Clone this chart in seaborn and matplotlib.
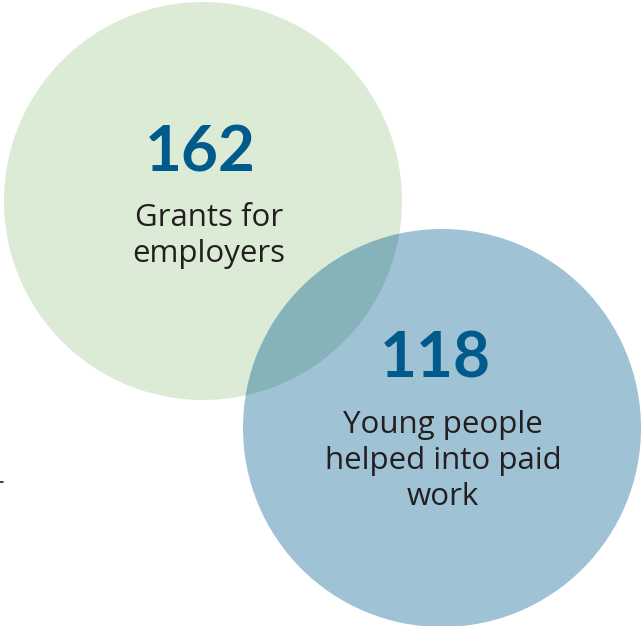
import matplotlib
matplotlib.use("Agg")
import matplotlib.pyplot as plt
import seaborn as sns
from matplotlib.patches import Circle

sns.set_theme(style="white")
plt.rcParams['font.family'] = ['Lato', 'DejaVu Sans']

values = [162, 118]
labels = [["Grants for", "employers"], ["Young people", "helped into paid", "work"]]
fill_colors = ["#dcebd6", "#a0c2d5"]
overlap_color = "#86b3b9"
number_color = "#005a8c"
text_color = "#231f20"

centers = [(203, 201), (442, 428)]
radius = 199

fig = plt.figure(figsize=(6.41, 6.26), dpi=100)
ax = fig.add_axes([0, 0, 1, 1])
ax.set_xlim(0, 641)
ax.set_ylim(626, 0)
ax.set_aspect('equal')
ax.axis('off')

c1 = Circle(centers[0], radius, facecolor=fill_colors[0], edgecolor='none', zorder=1)
c2 = Circle(centers[1], radius, facecolor=fill_colors[1], edgecolor='none', zorder=2)
ax.add_patch(c1)
ax.add_patch(c2)
clip = Circle(centers[0], radius, transform=ax.transData)
ov = Circle(centers[1], radius, facecolor=overlap_color, edgecolor='none', zorder=3)
ax.add_patch(ov)
ov.set_clip_path(clip)

num_pos = [(200, 172), (435, 378)]
lab_start = [(209, 226), (443, 433)]
line_gap = 36
for v, lab, npos, lpos in zip(values, labels, num_pos, lab_start):
    ax.text(npos[0], npos[1], str(v), ha='center', va='baseline', fontsize=46,
            fontweight='bold', color=number_color, zorder=5)
    for i, line in enumerate(lab):
        ax.text(lpos[0], lpos[1] + i * line_gap, line, ha='center', va='baseline',
                fontsize=22.5, family=['Open Sans', 'DejaVu Sans'],
                color=text_color, zorder=5)

ax.plot([0, 3], [482, 482], color=text_color, lw=1.2, zorder=5)

fig.savefig("out.png", dpi=100)
